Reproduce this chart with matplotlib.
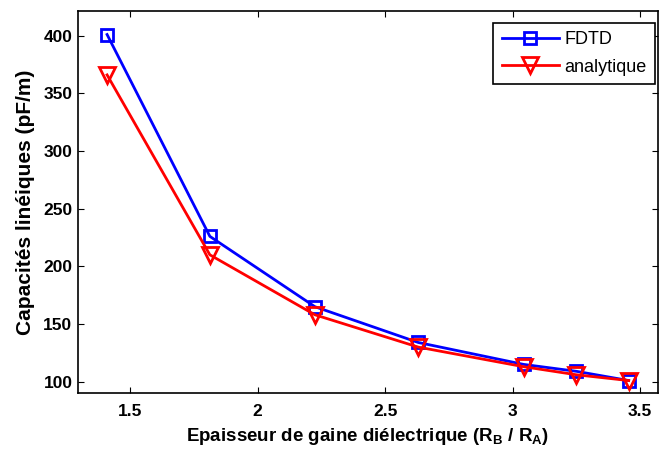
import numpy as np
import matplotlib
matplotlib.use('Agg')
import matplotlib.pyplot as plt

# epaisseur de gaine (R_B / R_A)
x = [1.41, 1.813, 2.225, 2.63, 3.043, 3.25, 3.455]
# capacites lineiques (pF/m)
c_fdtd = [401, 226, 165, 134, 115, 109, 101]
c_analytique = [366, 210, 158, 130, 113, 106, 101]

xticks = [1.5, 2, 2.5, 3, 3.5]
xticklabels = ['1.5', '2', '2.5', '3', '3.5']
yticks = [100, 150, 200, 250, 300, 350, 400]

plt.rcParams['font.family'] = ['Liberation Sans', 'DejaVu Sans']
plt.rcParams['mathtext.default'] = 'regular'

fig = plt.figure(figsize=(6.59, 4.54), dpi=100)
ax = fig.add_axes([78/659, 1-393/454, 580/659, 382/454])

ax.plot(x, c_fdtd, color='#0000ff', lw=2, marker='s', ms=9, mfc='none',
        mec='#0000ff', mew=2, label='FDTD')
ax.plot(x, c_analytique, color='#ff0000', lw=2, marker='v', ms=11, mfc='none',
        mec='#ff0000', mew=2, label='analytique')

ax.set_xlim(1.296, 3.57)
ax.set_ylim(90.2, 421.4)
ax.set_xticks(xticks)
ax.set_xticklabels(xticklabels)
ax.set_yticks(yticks)
ax.tick_params(direction='in', top=True, right=True, length=4, width=0.8,
               labelsize=12.5)
ax.tick_params(axis='x', pad=8)
ax.tick_params(axis='y', pad=4)
for lab in ax.get_xticklabels() + ax.get_yticklabels():
    lab.set_fontweight('bold')
for s in ax.spines.values():
    s.set_linewidth(1.2)

ax.set_xlabel('Epaisseur de gaine diélectrique (R$_B$ / R$_A$)',
              fontsize=13.5, fontweight='bold', labelpad=5)
ax.set_ylabel('Capacités linéiques (pF/m)', fontsize=15, fontweight='bold',
              labelpad=6)

leg = ax.legend(loc='upper right', bbox_to_anchor=(0.995, 0.969),
                fontsize=13, fancybox=False, edgecolor='black', framealpha=1,
                borderaxespad=0, handlelength=3.2, handletextpad=0.3,
                borderpad=0.45, labelspacing=0.6)
leg.get_frame().set_linewidth(1.2)

plt.savefig('out.png', dpi=100)
